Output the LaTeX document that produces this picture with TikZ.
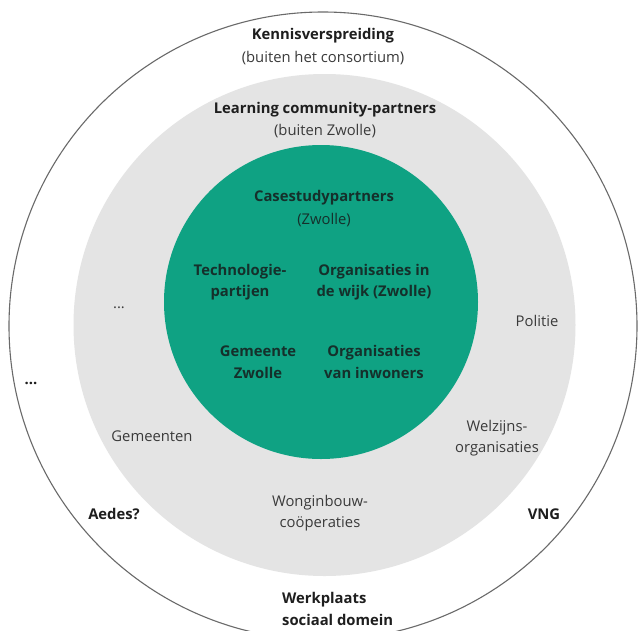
\documentclass[tikz,border=0pt]{standalone}
\usepackage{fontspec}
\setmainfont{Open Sans}
\definecolor{ringgray}{HTML}{6A6A6A}
\definecolor{midgray}{HTML}{E4E4E4}
\definecolor{coregreen}{HTML}{0FA283}
\definecolor{txtgray}{HTML}{3A3A3A}
\definecolor{txtdark}{HTML}{1E1E1E}
\definecolor{txtcore}{HTML}{15302B}
\begin{document}
\begin{tikzpicture}[x=1pt,y=-1pt,
  lbl/.style={font=\fontsize{14.8}{21.5}\selectfont, text=txtgray, align=center, inner sep=0pt},
  blbl/.style={font=\fontsize{14.8}{21.5}\selectfont\bfseries, text=txtdark, align=center, inner sep=0pt},
  clbl/.style={blbl, text=txtcore},
  ring/.style={circle, inner sep=0pt, outer sep=0pt}]
\useasboundingbox (0,0) rectangle (638,630);
\clip (0,0) rectangle (638,630);
\fill[white] (0,0) rectangle (638,630);
% rings
\node[ring, draw=ringgray, line width=1.1pt, minimum size=628pt] (outer) at (323,326) {};
\node[ring, fill=midgray, minimum size=502pt] (mid) at (324.5,325) {};
\node[ring, fill=coregreen, minimum size=314pt] (core) at (321,302) {};
% outer ring labels
\node[blbl] (kennis) at (323,36) {Kennisverspreiding};
\node[lbl] (kennissub) at (323,58) {(buiten het consortium)};
\node[blbl] (dotsout) at (31,383) {...};
\node[blbl] (aedes) at (114,514) {Aedes?};
\node[blbl] (vng) at (544,514) {VNG};
\node[blbl, align=left, anchor=west] (werk) at (282,609) {Werkplaats\\sociaal domein};
% middle ring labels
\node[blbl] (learn) at (325,110) {Learning community-partners};
\node[lbl] (learnsub) at (325,131) {(buiten Zwolle)};
\node[lbl] (dotsmid) at (119,308) {...};
\node[lbl] (politie) at (537,321) {Politie};
\node[lbl] (gem) at (152,436) {Gemeenten};
\node[lbl] (welz) at (497,438) {Welzijns-\\organisaties};
\node[lbl] (wong) at (320,513) {Wonginbouw-\\coöperaties};
% core labels
\node[clbl] (case) at (324,198) {Casestudypartners};
\node[lbl, text=txtcore] (casesub) at (324,220) {(Zwolle)};
\node[clbl] (tech) at (240,282) {Technologie-\\partijen};
\node[clbl] (orgwijk) at (374,282) {Organisaties in\\de wijk (Zwolle)};
\node[clbl] (gemz) at (258,362) {Gemeente\\Zwolle};
\node[clbl] (orginw) at (374,362) {Organisaties\\van inwoners};
\end{tikzpicture}
\end{document}
